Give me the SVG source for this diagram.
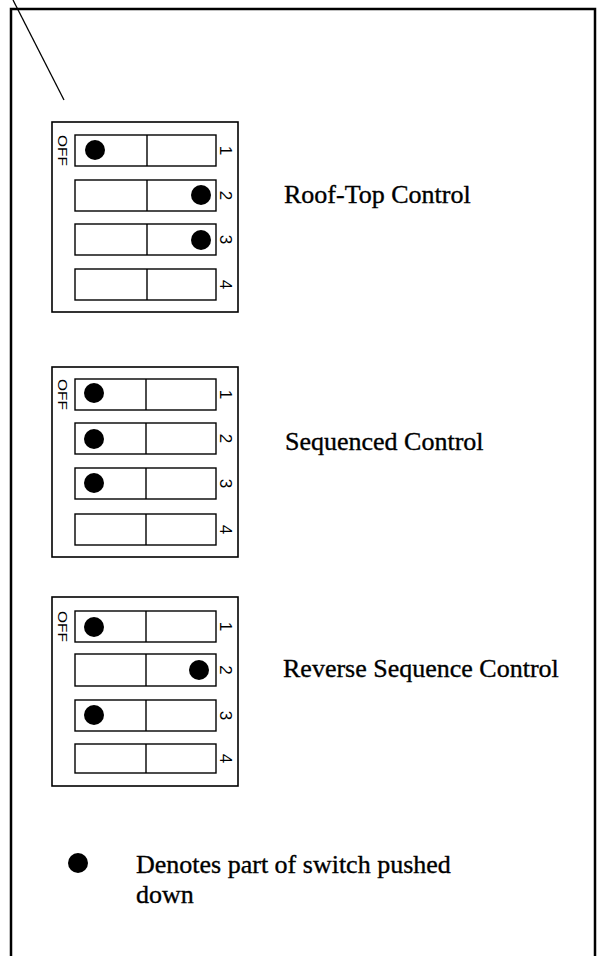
<svg xmlns="http://www.w3.org/2000/svg" width="597" height="956" viewBox="0 0 597 956">
<style>
.frame{fill:none;stroke:#000;stroke-width:2.5}
.box{fill:#fff;stroke:#000;stroke-width:1.6}
.row{fill:#fff;stroke:#000;stroke-width:1.4}
.div{stroke:#000;stroke-width:1.4}
.dot{fill:#000}
.lbl{font-family:"Liberation Serif","Times New Roman",serif;font-size:26px;fill:#000;stroke:#000;stroke-width:0.35}
.num{font-family:"Liberation Sans",Arial,sans-serif;font-size:17px;fill:#000}
.off{font-family:"Liberation Sans",Arial,sans-serif;font-size:13px;fill:#000}
</style>
<rect width="597" height="956" fill="#fff"/>
<g id="frame">
<path class="frame" d="M11,956 V9 H595 V956"/>
<line x1="13" y1="0" x2="64" y2="100" stroke="#000" stroke-width="1.3"/>
</g>
<g id="switch-rooftop">
<rect class="box" x="52" y="122" width="186" height="190"/>
<text class="off" transform="translate(58,135) rotate(90)" textLength="31" lengthAdjust="spacingAndGlyphs">OFF</text>
<rect class="row" x="75" y="135" width="141" height="31"/><line class="div" x1="147" y1="135" x2="147" y2="166"/>
<rect class="row" x="75" y="180" width="141" height="31"/><line class="div" x1="147" y1="180" x2="147" y2="211"/>
<rect class="row" x="75" y="224" width="141" height="31"/><line class="div" x1="147" y1="224" x2="147" y2="255"/>
<rect class="row" x="75" y="269" width="141" height="31"/><line class="div" x1="147" y1="269" x2="147" y2="300"/>
<circle class="dot" cx="95" cy="150" r="10"/>
<circle class="dot" cx="201" cy="195" r="10"/>
<circle class="dot" cx="201" cy="240" r="10"/>
<text class="num" text-anchor="middle" transform="translate(220,150.5) rotate(90)">1</text>
<text class="num" text-anchor="middle" transform="translate(220,195.5) rotate(90)">2</text>
<text class="num" text-anchor="middle" transform="translate(220,239.5) rotate(90)">3</text>
<text class="num" text-anchor="middle" transform="translate(220,284.5) rotate(90)">4</text>
<text class="lbl" x="284" y="203">Roof-Top Control</text>
</g>
<g id="switch-sequenced">
<rect class="box" x="52" y="367" width="186" height="190"/>
<text class="off" transform="translate(58,379) rotate(90)" textLength="31" lengthAdjust="spacingAndGlyphs">OFF</text>
<rect class="row" x="75" y="379" width="141" height="31"/><line class="div" x1="146" y1="379" x2="146" y2="410"/>
<rect class="row" x="75" y="423" width="141" height="31"/><line class="div" x1="146" y1="423" x2="146" y2="454"/>
<rect class="row" x="75" y="468" width="141" height="31"/><line class="div" x1="146" y1="468" x2="146" y2="499"/>
<rect class="row" x="75" y="514" width="141" height="31"/><line class="div" x1="146" y1="514" x2="146" y2="545"/>
<circle class="dot" cx="94" cy="393" r="10"/>
<circle class="dot" cx="94" cy="439" r="10"/>
<circle class="dot" cx="94" cy="483" r="10"/>
<text class="num" text-anchor="middle" transform="translate(220,394.5) rotate(90)">1</text>
<text class="num" text-anchor="middle" transform="translate(220,438.5) rotate(90)">2</text>
<text class="num" text-anchor="middle" transform="translate(220,483.5) rotate(90)">3</text>
<text class="num" text-anchor="middle" transform="translate(220,529.5) rotate(90)">4</text>
<text class="lbl" x="285" y="450">Sequenced Control</text>
</g>
<g id="switch-reverse">
<rect class="box" x="52" y="597" width="186" height="189"/>
<text class="off" transform="translate(58,611) rotate(90)" textLength="31" lengthAdjust="spacingAndGlyphs">OFF</text>
<rect class="row" x="75" y="611" width="141" height="31"/><line class="div" x1="146" y1="611" x2="146" y2="642"/>
<rect class="row" x="75" y="654" width="141" height="32"/><line class="div" x1="146" y1="654" x2="146" y2="686"/>
<rect class="row" x="75" y="700" width="141" height="31"/><line class="div" x1="146" y1="700" x2="146" y2="731"/>
<rect class="row" x="75" y="744" width="141" height="29"/><line class="div" x1="146" y1="744" x2="146" y2="773"/>
<circle class="dot" cx="94" cy="627" r="10"/>
<circle class="dot" cx="199" cy="670" r="10"/>
<circle class="dot" cx="94" cy="715" r="10"/>
<text class="num" text-anchor="middle" transform="translate(220,626.5) rotate(90)">1</text>
<text class="num" text-anchor="middle" transform="translate(220,670) rotate(90)">2</text>
<text class="num" text-anchor="middle" transform="translate(220,715.5) rotate(90)">3</text>
<text class="num" text-anchor="middle" transform="translate(220,758.5) rotate(90)">4</text>
<text class="lbl" x="283" y="677">Reverse Sequence Control</text>
</g>
<g id="legend">
<circle class="dot" cx="78" cy="863" r="10"/>
<text class="lbl" x="136" y="873">Denotes part of switch pushed</text>
<text class="lbl" x="136" y="903">down</text>
</g>
</svg>
